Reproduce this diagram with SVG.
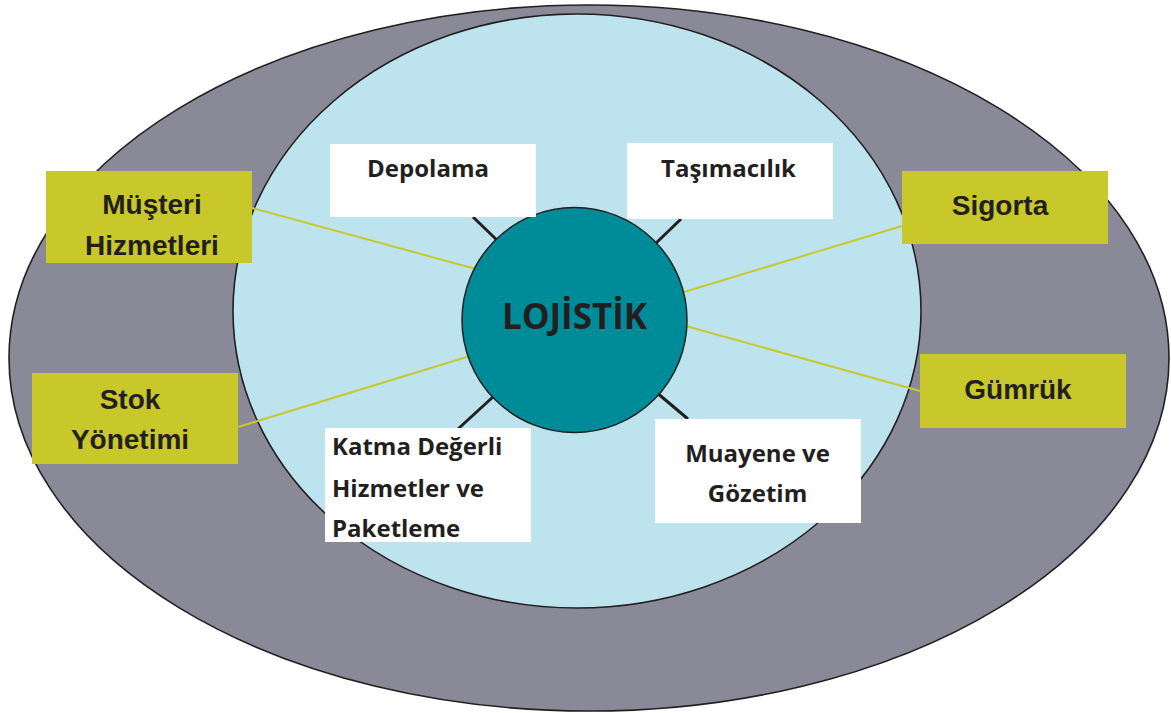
<svg xmlns="http://www.w3.org/2000/svg" width="1171" height="713" viewBox="0 0 1171 713">
<style>
.ring{stroke:#231f20;stroke-width:1.6}
.wbox{fill:#ffffff}
.ybox{fill:#c8c82b}
.dk{stroke:#231f20;stroke-width:3;fill:none}
.yl{stroke:#c8c82b;stroke-width:2;fill:none}
.wt{font-family:"Open Sans","Noto Sans",sans-serif;font-weight:bold;font-size:24px;fill:#231f20}
.yt{font-family:"Liberation Sans",Arial,sans-serif;font-weight:bold;font-size:28px;fill:#231f20;text-anchor:middle}
</style>
<rect width="1171" height="713" fill="#ffffff"/>
<ellipse class="ring" cx="589" cy="358" rx="580" ry="353" fill="#898998"/>
<ellipse class="ring" cx="577" cy="311" rx="344" ry="297" fill="#bde4ee"/>
<g id="connectors">
<line class="dk" x1="473" y1="217" x2="500" y2="243"/>
<line class="dk" x1="681" y1="219" x2="654" y2="245"/>
<line class="dk" x1="494" y1="396" x2="458" y2="429"/>
<line class="dk" x1="656" y1="392" x2="688" y2="419"/>
<line class="yl" x1="252" y1="208" x2="476" y2="269"/>
<line class="yl" x1="238" y1="427" x2="470" y2="356"/>
<line class="yl" x1="902" y1="226" x2="684" y2="292"/>
<line class="yl" x1="920" y1="391" x2="686" y2="326"/>
</g>
<g id="lojistik">
<circle cx="574.5" cy="320" r="112.5" fill="#008b99" stroke="#231f20" stroke-width="1.5"/>
<text x="574.5" y="329" class="wt" style="font-size:35px" text-anchor="middle">LOJİSTİK</text>
</g>
<g id="depolama">
<rect class="wbox" x="330" y="144" width="206" height="73"/>
<text class="wt" x="428" y="177" text-anchor="middle">Depolama</text>
</g>
<g id="tasimacilik">
<rect class="wbox" x="627" y="143" width="206" height="76"/>
<text class="wt" x="728.5" y="177" text-anchor="middle">Taşımacılık</text>
</g>
<g id="katma">
<rect class="wbox" x="325" y="428" width="206" height="114"/>
<text class="wt" x="332" y="455">Katma Değerli</text>
<text class="wt" x="332" y="497">Hizmetler ve</text>
<text class="wt" x="332" y="537">Paketleme</text>
</g>
<g id="muayene">
<rect class="wbox" x="655" y="419" width="206" height="104"/>
<text class="wt" x="757.5" y="462" text-anchor="middle">Muayene ve</text>
<text class="wt" x="757.5" y="502" text-anchor="middle">Gözetim</text>
</g>
<g id="musteri">
<rect class="ybox" x="46" y="171" width="206" height="92"/>
<text class="yt" x="152" y="214">Müşteri</text>
<text class="yt" x="152" y="255">Hizmetleri</text>
</g>
<g id="stok">
<rect class="ybox" x="32" y="373" width="206" height="91"/>
<text class="yt" x="130" y="409">Stok</text>
<text class="yt" x="130" y="449">Yönetimi</text>
</g>
<g id="sigorta">
<rect class="ybox" x="902" y="171" width="206" height="73"/>
<text class="yt" x="1000" y="215">Sigorta</text>
</g>
<g id="gumruk">
<rect class="ybox" x="920" y="354" width="206" height="74"/>
<text class="yt" x="1018" y="399">Gümrük</text>
</g>
</svg>
